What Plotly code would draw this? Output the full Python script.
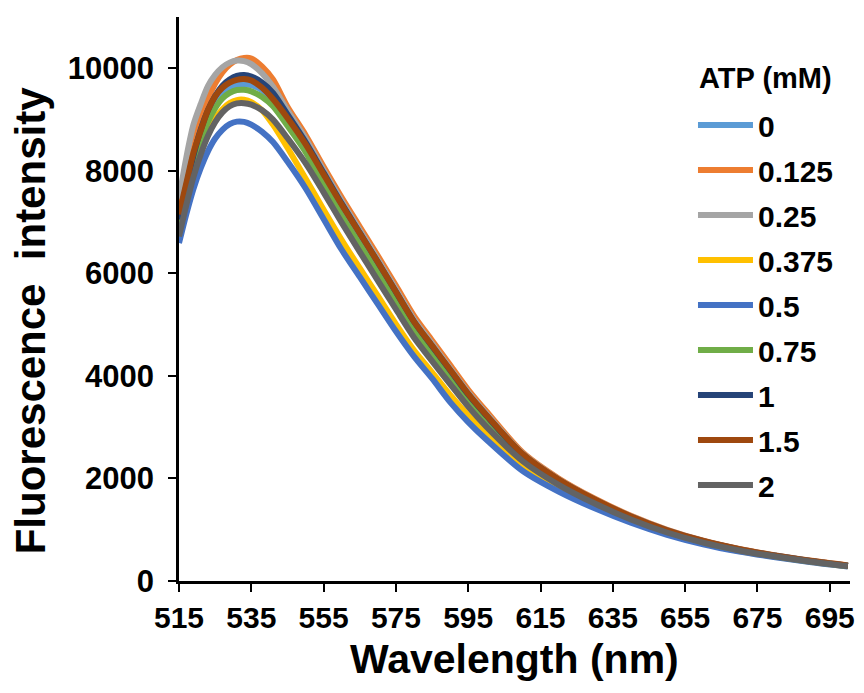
import plotly.graph_objects as go

# Wavelength grid (nm)
wavelength = [515, 517, 519, 521, 523, 525, 527, 529, 531, 533, 535, 538, 541, 545,
              550, 555, 560, 565, 570, 575, 580, 585, 590, 595, 600,
              610, 620, 630, 640, 650, 660, 670, 680, 690, 700]

# Series names (ATP concentration, mM)
atp_labels = ["0", "0.125", "0.25", "0.375", "0.5", "0.75", "1", "1.5", "2"]
legend_title = "ATP (mM)"
x_title = "Wavelength (nm)"
y_title = "Fluorescence  intensity"

atp_0 = [7000, 7650, 8230, 8700, 9060, 9320, 9500, 9610, 9670, 9690, 9670, 9570, 9380, 8990,
         8470, 7890, 7300, 6730, 6170, 5600, 5020, 4550, 4080, 3620, 3210,
         2440, 1950, 1566, 1242, 977, 770, 612, 489, 385, 297]
atp_0125 = [7300, 7950, 8550, 9000, 9400, 9700, 9920, 10070, 10160, 10200, 10190, 10030, 9780, 9250,
            8700, 8080, 7480, 6910, 6340, 5760, 5170, 4690, 4210, 3730, 3310,
            2510, 2000, 1605, 1272, 1000, 788, 626, 500, 394, 303]
atp_025 = [7450, 8250, 8900, 9300, 9650, 9870, 10020, 10110, 10150, 10140, 10080, 9900, 9640, 9180,
           8630, 8010, 7410, 6840, 6270, 5690, 5100, 4630, 4150, 3680, 3265,
           2490, 1985, 1592, 1262, 992, 781, 621, 496, 391, 301]
atp_0375 = [6800, 7420, 7970, 8400, 8760, 9020, 9200, 9320, 9380, 9385, 9340, 9180, 8900, 8450,
            7850, 7240, 6650, 6100, 5560, 5010, 4500, 4070, 3630, 3230, 2870,
            2260, 1820, 1470, 1172, 926, 734, 586, 470, 371, 287]
atp_05 = [6590, 7150, 7650, 8050, 8380, 8630, 8800, 8910, 8960, 8955, 8900, 8760, 8560, 8180,
          7660, 7060, 6460, 5930, 5400, 4870, 4380, 3950, 3490, 3100, 2760,
          2150, 1745, 1418, 1137, 902, 717, 574, 462, 365, 283]
atp_075 = [6900, 7550, 8120, 8580, 8950, 9220, 9410, 9520, 9575, 9580, 9550, 9440, 9260, 8880,
           8370, 7720, 7120, 6560, 6000, 5440, 4900, 4430, 3970, 3510, 3110,
           2390, 1915, 1540, 1223, 963, 760, 605, 484, 381, 294]
atp_1 = [7050, 7700, 8300, 8800, 9180, 9460, 9660, 9780, 9850, 9870, 9840, 9720, 9520, 9100,
         8560, 7960, 7360, 6790, 6220, 5640, 5060, 4580, 4110, 3640, 3230,
         2465, 1968, 1581, 1253, 985, 776, 617, 493, 388, 299]
atp_15 = [7150, 7750, 8350, 8780, 9180, 9450, 9620, 9720, 9775, 9790, 9760, 9620, 9400, 9030,
          8520, 7930, 7340, 6780, 6220, 5640, 5060, 4590, 4120, 3650, 3240,
          2480, 1980, 1590, 1260, 990, 780, 620, 495, 390, 300]
atp_2 = [6720, 7330, 7880, 8320, 8680, 8950, 9140, 9260, 9315, 9320, 9290, 9180, 9000, 8640,
         8150, 7580, 6990, 6420, 5860, 5300, 4750, 4290, 3840, 3400, 3010,
         2340, 1875, 1510, 1200, 946, 748, 596, 477, 376, 290]

series = [atp_0, atp_0125, atp_025, atp_0375, atp_05, atp_075, atp_1, atp_15, atp_2]
colors = ["#5B9BD5", "#ED7D31", "#A5A5A5", "#FFC000", "#4472C4",
          "#70AD47", "#264478", "#9E480E", "#636363"]

x_ticks = [515, 535, 555, 575, 595, 615, 635, 655, 675, 695]
y_ticks = [0, 2000, 4000, 6000, 8000, 10000]

FONT = "Liberation Sans, Arial, sans-serif"

fig = go.Figure()
for name, vals, col in zip(atp_labels, series, colors):
    fig.add_trace(go.Scatter(
        x=wavelength, y=vals, mode="lines", name=name,
        legendgroup=name,
        line=dict(color=col, width=6, shape="spline", smoothing=0.8),
    ))

# legend heading
fig.add_annotation(
    text=legend_title, xref="paper", yref="paper",
    x=0.772, y=0.892, xanchor="left", yanchor="middle", showarrow=False,
    font=dict(size=29, weight="bold", family=FONT, color="black"),
)
# y-axis title (placed slightly below the axis centre, as in the original)
fig.add_annotation(
    text=y_title, xref="paper", yref="paper",
    x=-0.222, y=0.4605, xanchor="center", yanchor="middle", showarrow=False,
    textangle=-90,
    font=dict(size=42, weight="bold", family=FONT, color="black"),
)
# x-axis title
fig.add_annotation(
    text=x_title, xref="paper", yref="paper",
    x=0.5, y=-0.138, xanchor="center", yanchor="middle", showarrow=False,
    font=dict(size=41, weight="bold", family=FONT, color="black"),
)

# page body has an 8px margin, so the figure is sized to fit the 864x693 window
fig.update_layout(
    width=856, height=685,
    paper_bgcolor="white", plot_bgcolor="white",
    margin=dict(l=171, r=14, t=9, b=112),
    font=dict(family=FONT, color="black"),
    legend=dict(
        x=0.766, y=0.8545, xanchor="left", yanchor="top",
        bgcolor="rgba(0,0,0,0)",
        font=dict(size=30, weight="bold", family=FONT),
        itemwidth=55,
        tracegroupgap=3,
        traceorder="grouped",
    ),
    xaxis=dict(
        range=[515, 700.6], automargin=False,
        tickmode="array", tickvals=x_ticks, ticktext=[str(v) for v in x_ticks],
        showline=True, linecolor="black", linewidth=2.5,
        ticks="outside", ticklen=8, tickwidth=2, tickcolor="black",
        showgrid=False, zeroline=False,
        tickfont=dict(size=30, weight="bold", family=FONT),
    ),
    yaxis=dict(
        range=[0, 11000], automargin=False,
        tickmode="array", tickvals=y_ticks, ticktext=[str(v) for v in y_ticks],
        showline=True, linecolor="black", linewidth=2.5,
        ticks="outside", ticklen=8, tickwidth=2, tickcolor="black",
        ticklabelstandoff=8,
        showgrid=False, zeroline=False,
        tickfont=dict(size=31, weight="bold", family=FONT),
    ),
)

fig.write_html("out.html")
